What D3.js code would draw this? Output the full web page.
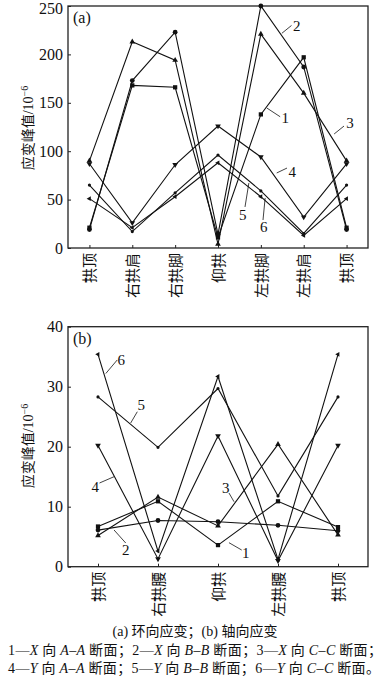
<!DOCTYPE html>
<html>
<head>
<meta charset="utf-8">
<script src="https://cdn.jsdelivr.net/npm/d3@7/dist/d3.min.js"></script>
<style>
  body { margin: 0; background: #fff; }
  svg { display: block; }
  text { font-family: "Liberation Serif", "Noto Sans CJK SC", serif; fill: #111; }
  .cn { font-family: "Noto Sans CJK SC", sans-serif; }
</style>
</head>
<body>
<div id="chart"></div>
<script>
// panel (a): hoop strain
var catsA = ["拱顶", "右拱肩", "右拱脚", "仰拱", "左拱脚", "左拱肩", "拱顶"];
var a1 = [21, 168, 166, 11, 138, 197, 21];
var a2 = [19, 173, 223, 14, 250, 187, 19];
var a3 = [90, 213, 194, 4, 221, 160, 90];
var a4 = [87, 26, 86, 126, 94, 32, 87];
var a5 = [65, 17, 57, 96, 59, 15, 65];
var a6 = [51, 21, 53, 88, 53, 13, 51];
var ticksA = [0, 50, 100, 150, 200, 250];

// panel (b): axial strain
var catsB = ["拱顶", "右拱腰", "仰拱", "左拱腰", "拱顶"];
var b1 = [6.7, 10.9, 3.6, 10.9, 6.6];
var b2 = [6.1, 7.7, 7.5, 6.9, 6.0];
var b3 = [5.2, 11.6, 6.8, 20.4, 5.3];
var b4 = [20.2, 1.3, 21.8, 1.0, 20.2];
var b5 = [28.3, 19.9, 29.7, 11.8, 28.3];
var b6 = [35.4, 2.6, 31.7, 1.2, 35.4];
var ticksB = [0, 10, 20, 30, 40];

// series number labels: leader from [idx, value] to [idx, value], text at [idx, value]
var notesA = [
  { t: "2", from: [4.49, 221.8], to: [4.715, 229.9], at: [4.75, 224], anchor: "start" },
  { t: "1", from: [4.14, 144.6], to: [4.45, 135.6], at: [4.48, 129], anchor: "start" },
  { t: "3", from: [5.71, 117.8], to: [5.94, 126.0], at: [5.99, 124], anchor: "start" },
  { t: "4", from: [4.37, 77.5], to: [4.61, 82.6], at: [4.645, 73.3], anchor: "start" },
  { t: "5", from: [3.72, 67.1], to: [3.63, 42.4], at: [3.49, 28.9], anchor: "start" },
  { t: "6", from: [4.10, 51.7], to: [4.05, 28.9], at: [3.98, 16.5], anchor: "start" }
];
var notesB = [
  { t: "6", from: [0.13, 32.2], to: [0.32, 34.45], at: [0.325, 33.6], anchor: "start" },
  { t: "5", from: [0.545, 23.95], to: [0.655, 25.83], at: [0.658, 26.1], anchor: "start" },
  { t: "4", from: [0.267, 15.0], to: [0.025, 13.95], at: [0.017, 12.45], anchor: "end" },
  { t: "3", from: [2.267, 10.83], to: [2.183, 12.28], at: [2.067, 12.28], anchor: "start" },
  { t: "2", from: [0.267, 6.12], to: [0.462, 3.95], at: [0.40, 1.95], anchor: "start" },
  { t: "1", from: [2.183, 4.0], to: [2.395, 2.78], at: [2.40, 1.45], anchor: "start" }
];

var W = 386, H = 695;
var svg = d3.select("#chart").append("svg")
    .attr("width", W)
    .attr("height", H);

var markers = [
  { type: d3.symbolSquare, size: 18, rot: 0 },
  { type: d3.symbolCircle, size: 18, rot: 0 },
  { type: d3.symbolTriangle, size: 14, rot: 0 },
  { type: d3.symbolTriangle, size: 14, rot: 180 },
  { type: d3.symbolCircle, size: 8, rot: 0 },
  { type: d3.symbolTriangle, size: 10, rot: -90 }
];

function panel(cfg) {
  var x = d3.scalePoint().domain(d3.range(cfg.cats.length))
      .range([68, 368]).padding(0.5);
  var step = x.step();
  var xi = function(i) { return x(0) + i * step; };   // fractional index
  var y = d3.scaleLinear().domain(cfg.domain).range([cfg.bottom, cfg.top]);

  var g = svg.append("g");

  // frame
  g.append("rect")
      .attr("x", 68).attr("y", cfg.top)
      .attr("width", 300).attr("height", cfg.bottom - cfg.top)
      .attr("fill", "none").attr("stroke", "#222").attr("stroke-width", 1.3);

  // y axis
  var ya = g.append("g").attr("transform", "translate(68,0)")
      .call(d3.axisLeft(y).tickValues(cfg.ticks).tickSizeInner(-3).tickSizeOuter(0).tickPadding(5));
  ya.select(".domain").remove();
  ya.selectAll("line").attr("stroke", "#222");
  ya.selectAll("text").style("font-size", "16px").style("font-family", "Liberation Serif")
      .attr("dy", function(d) { return d === cfg.domain[1] && cfg.top < 10 ? "0.45em" : "0.32em"; });

  // x axis
  var xa = g.append("g").attr("transform", "translate(0," + cfg.bottom + ")")
      .call(d3.axisBottom(x).tickSizeInner(-3).tickSizeOuter(0).tickFormat(function(i) { return cfg.cats[i]; }));
  xa.select(".domain").remove();
  xa.selectAll("line").attr("stroke", "#222");
  xa.selectAll("text")
      .attr("class", "cn")
      .style("font-size", "15px")
      .attr("transform", "rotate(-90)")
      .attr("x", -5).attr("y", 0).attr("dy", "0.35em")
      .attr("text-anchor", "end");

  // y title
  var yt = g.append("text")
      .attr("transform", "translate(28," + cfg.titleY + ") rotate(-90)")
      .attr("text-anchor", "middle")
      .attr("dy", "0.35em")
      .style("font-size", "14px");
  yt.append("tspan").attr("class", "cn").text("应变峰值");
  yt.append("tspan").text("/10");
  yt.append("tspan").attr("dy", "-0.45em").style("font-size", "10px").text("−6");

  // panel tag
  g.append("text").attr("x", 73).attr("y", cfg.top + 17)
      .style("font-size", "16px").text(cfg.tag);

  var line = d3.line()
      .x(function(d, i) { return x(i); })
      .y(function(d) { return y(d); });

  cfg.series.forEach(function(s, k) {
    g.append("path")
        .datum(s)
        .attr("d", line)
        .attr("fill", "none")
        .attr("stroke", "#111")
        .attr("stroke-width", 1.1);
    var m = markers[k];
    g.selectAll(".m" + k)
        .data(s)
        .enter()
        .append("path")
        .attr("class", "m" + k)
        .attr("d", d3.symbol().type(m.type).size(m.size))
        .attr("transform", function(d, i) {
          return "translate(" + x(i) + "," + y(d) + ") rotate(" + m.rot + ")";
        })
        .attr("fill", "#111");
  });

  // leader lines and numbers
  cfg.notes.forEach(function(n) {
    g.append("line")
        .attr("x1", xi(n.from[0])).attr("y1", y(n.from[1]))
        .attr("x2", xi(n.to[0])).attr("y2", y(n.to[1]))
        .attr("stroke", "#111").attr("stroke-width", 0.8);
    g.append("text")
        .attr("x", xi(n.at[0])).attr("y", y(n.at[1]))
        .attr("text-anchor", n.anchor)
        .style("font-size", "15px")
        .text(n.t);
  });
}

panel({ cats: catsA, series: [a1, a2, a3, a4, a5, a6], domain: [0, 250], ticks: ticksA,
        top: 6, bottom: 248, titleY: 128, tag: "(a)", notes: notesA });
panel({ cats: catsB, series: [b1, b2, b3, b4, b5, b6], domain: [0, 40], ticks: ticksB,
        top: 326.7, bottom: 566.7, titleY: 446, tag: "(b)", notes: notesB });

// caption
var cap = svg.append("text").attr("x", 195).attr("y", 636)
    .attr("text-anchor", "middle").style("font-size", "14px");
cap.append("tspan").text("(a) ");
cap.append("tspan").attr("class", "cn").text("环向应变；");
cap.append("tspan").text("(b) ");
cap.append("tspan").attr("class", "cn").text("轴向应变");

var legendRows = [
  [["1—", "X", "A–A"], ["2—", "X", "B–B"], ["3—", "X", "C–C"]],
  [["4—", "Y", "A–A"], ["5—", "Y", "B–B"], ["6—", "Y", "C–C"]]
];
legendRows.forEach(function(row, r) {
  var t = svg.append("text").attr("x", 8).attr("y", 655 + r * 18)
      .style("font-size", "14px")
      .attr("textLength", r === 0 ? 374 : 372)
      .attr("lengthAdjust", "spacing");
  row.forEach(function(it, j) {
    t.append("tspan").text(it[0]);
    t.append("tspan").style("font-style", "italic").text(it[1]);
    t.append("tspan").attr("class", "cn").text(" 向 ");
    t.append("tspan").style("font-style", "italic").text(it[2]);
    t.append("tspan").attr("class", "cn").text(" 断面" + (j < 2 ? "；" : (r === 0 ? "；" : "。")));
  });
});
</script>
</body>
</html>
